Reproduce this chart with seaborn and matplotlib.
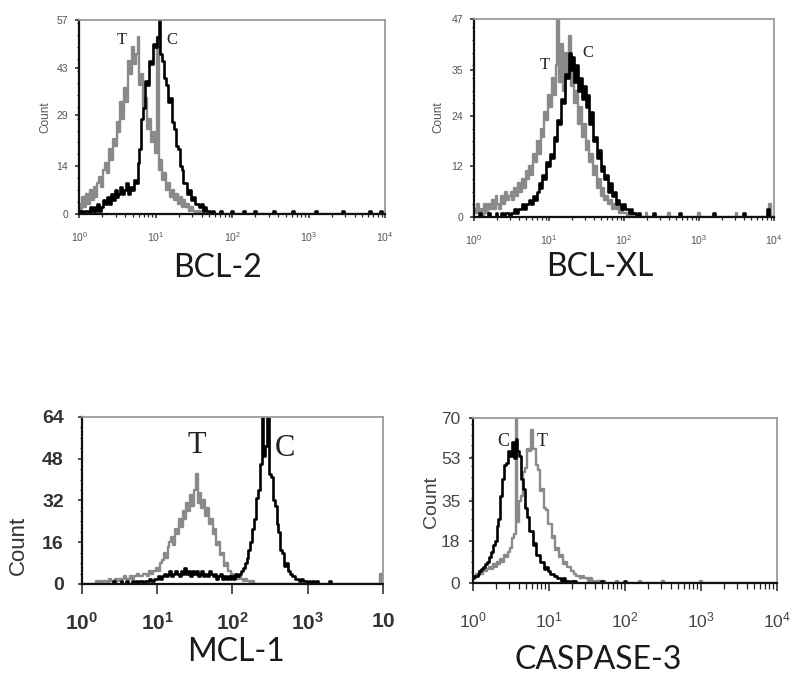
import numpy as np
import pandas as pd
import matplotlib
matplotlib.use("Agg")
import matplotlib.pyplot as plt
import seaborn as sns
from matplotlib.ticker import FixedLocator, LogLocator, NullFormatter, FixedFormatter, AutoMinorLocator

sns.set_theme(style="ticks")
plt.rcParams["font.family"] = ["Liberation Sans", "DejaVu Sans"]
plt.rcParams["mathtext.fontset"] = "custom"
plt.rcParams["mathtext.rm"] = "Liberation Sans"
plt.rcParams["mathtext.bf"] = "Liberation Sans:bold"
plt.rcParams["mathtext.it"] = "Liberation Sans:italic"

# ---------------- data (counts per channel, 0.025 decade channels from 10^0) ----------------
STEP = 0.025
N_CH = 161

panel_names = ["BCL-2", "BCL-XL", "MCL-1", "CASPASE-3"]
y_ticks = [[0, 14, 29, 43, 57], [0, 12, 24, 35, 47], [0, 16, 32, 48, 64], [0, 18, 35, 53, 70]]
x_tick_labels = [["$10^{0}$", "$10^{1}$", "$10^{2}$", "$10^{3}$", "$10^{4}$"],
                 ["$10^{0}$", "$10^{1}$", "$10^{2}$", "$10^{3}$", "$10^{4}$"],
                 [r"$\mathbf{10^{0}}$", r"$\mathbf{10^{1}}$", r"$\mathbf{10^{2}}$", r"$\mathbf{10^{3}}$", r"$\mathbf{10}$"],
                 ["$10^{0}$", "$10^{1}$", "$10^{2}$", "$10^{3}$", "$10^{4}$"]]

bcl2_T = [3, 1, 5, 2, 6, 3, 7, 4, 8, 5,
          9, 11, 8, 13, 15, 12, 19, 16, 22, 20,
          27, 24, 33, 28, 37, 33, 45, 41, 49, 44,
          47, 52, 38, 41, 31, 34, 25, 28, 21, 24,
          18, 52, 13, 16, 10, 12, 7, 9, 5, 7,
          4, 6, 3, 5, 2, 4, 2, 3, 1, 2,
          1, 0, 1, 0, 1]
bcl2_C = [0, 1, 0, 1, 1, 0, 2, 1, 2, 1,
          3, 1, 2, 4, 3, 5, 3, 6, 4, 7,
          5, 6, 8, 6, 7, 9, 6, 8, 7, 10,
          9, 15, 19, 28, 31, 39, 38, 45, 44, 50,
          49, 52, 57, 47, 45, 40, 38, 33, 34, 27,
          25, 20, 19, 14, 13, 9, 9, 6, 7, 4,
          5, 3, 3, 2, 3, 1, 2, 1, 1, 0,
          1]
bcl2_C_tail_ch = [74, 80, 86, 92, 102, 112, 124, 138, 152, 158]
bcl2_C_tail = [1, 1, 1, 1, 1, 1, 1, 1, 1, 1]

bclxl_T = [2, 1, 3, 1, 2, 0, 3, 1, 3, 2,
           4, 2, 5, 3, 2, 5, 3, 6, 4, 5,
           6, 4, 7, 5, 8, 6, 9, 7, 11, 9,
           12, 10, 15, 13, 18, 15, 21, 19, 25, 23,
           29, 26, 33, 29, 36, 47, 32, 41, 30, 39,
           33, 43, 31, 37, 27, 30, 22, 26, 19, 22,
           16, 18, 13, 15, 10, 12, 7, 9, 5, 7,
           4, 5, 3, 4, 2, 3, 2, 3, 1, 2,
           1, 1, 0, 1, 0, 1]
bclxl_T_tail_ch = [92, 104, 120, 140, 158]
bclxl_T_tail = [1, 1, 1, 1, 3]
bclxl_C = [0, 0, 0, 1, 0, 0, 0, 0, 1, 0,
           0, 0, 1, 0, 0, 1, 0, 1, 1, 0,
           1, 1, 2, 1, 2, 2, 3, 2, 3, 3,
           4, 3, 5, 4, 6, 8, 7, 10, 9, 13,
           12, 15, 14, 19, 18, 23, 22, 28, 27, 34,
           33, 39, 35, 38, 32, 36, 30, 33, 28, 31,
           26, 29, 22, 25, 18, 19, 14, 16, 11, 12,
           9, 10, 6, 8, 5, 6, 3, 4, 3, 2,
           3, 2, 2, 1, 2, 1, 1, 0, 1, 0]
bclxl_C_tail_ch = [96, 110, 128, 144, 157]
bclxl_C_tail = [1, 1, 1, 1, 2]

mcl1_T = [0, 0, 0, 0, 0, 0, 0, 0, 1, 0,
          1, 0, 1, 1, 0, 2, 1, 1, 2, 1,
          2, 1, 2, 3, 2, 2, 3, 2, 3, 3,
          4, 3, 3, 4, 4, 3, 5, 4, 5, 5,
          6, 5, 8, 9, 12, 10, 14, 16, 18, 15,
          21, 19, 25, 22, 28, 25, 31, 28, 34, 30,
          36, 42, 31, 35, 29, 32, 26, 29, 23, 25,
          19, 21, 15, 16, 11, 12, 7, 8, 5, 5,
          4, 3, 3, 2, 3, 2, 1, 2, 1, 1,
          0, 1]
mcl1_T_tail_ch = [159]
mcl1_T_tail = [4]
mcl1_C = [0, 0, 0, 0, 0, 0, 0, 0, 0, 0,
          0, 0, 0, 0, 0, 0, 0, 1, 0, 0,
          0, 1, 0, 0, 1, 0, 0, 1, 0, 1,
          0, 1, 1, 0, 1, 1, 2, 1, 1, 2,
          2, 3, 2, 3, 4, 3, 4, 5, 3, 4,
          5, 4, 3, 5, 4, 6, 4, 5, 3, 5,
          4, 5, 3, 4, 5, 3, 4, 3, 5, 4,
          3, 4, 2, 3, 4, 2, 3, 2, 3, 2,
          3, 2, 4, 3, 4, 5, 6, 8, 10, 13,
          16, 21, 25, 33, 36, 46, 64, 49, 53, 64,
          42, 41, 32, 30, 23, 20, 13, 12, 7, 8,
          5, 4, 3, 3, 2, 2, 1, 2, 1, 1,
          0, 1, 0, 1, 0, 1]
mcl1_C_tail_ch = [132]
mcl1_C_tail = [1]

casp3_T = [3, 2, 4, 3, 5, 4, 6, 5, 6, 7,
           6, 8, 7, 9, 8, 10, 9, 12, 11, 13,
           15, 19, 21, 70, 26, 35, 37, 47, 49, 57,
           56, 65, 57, 57, 50, 48, 39, 40, 32, 31,
           25, 25, 19, 20, 14, 15, 11, 12, 8, 9,
           7, 7, 5, 5, 4, 3, 3, 2, 3, 2,
           2, 1, 2, 1, 1, 0, 1, 1, 0, 1]
casp3_T_tail_ch = [76, 88, 100, 120]
casp3_T_tail = [1, 1, 1, 1]
casp3_C = [2, 3, 3, 4, 5, 6, 7, 8, 9, 11,
           13, 16, 18, 24, 27, 37, 44, 50, 51, 56,
           54, 60, 53, 61, 56, 54, 44, 40, 32, 28,
           22, 22, 16, 17, 12, 12, 9, 9, 6, 7,
           5, 4, 4, 3, 3, 2, 2, 1, 2, 1,
           1, 0, 1, 0, 1, 0]
casp3_C_tail_ch = [68, 80]
casp3_C_tail = [1, 1]

curves = [
    (bcl2_T, [], [], bcl2_C, bcl2_C_tail_ch, bcl2_C_tail),
    (bclxl_T, bclxl_T_tail_ch, bclxl_T_tail, bclxl_C, bclxl_C_tail_ch, bclxl_C_tail),
    (mcl1_T, mcl1_T_tail_ch, mcl1_T_tail, mcl1_C, mcl1_C_tail_ch, mcl1_C_tail),
    (casp3_T, casp3_T_tail_ch, casp3_T_tail, casp3_C, casp3_C_tail_ch, casp3_C_tail),
]

# T / C label positions (fluorescence, count)
label_T = [(3.6, 51), (8.9, 36), (34, 53), (8.1, 60)]
label_C = [(16.5, 51), (33, 39), (500, 52), (2.5, 60)]


def full_series(vals, tail_ch, tail_vals):
    out = np.zeros(N_CH)
    out[:len(vals)] = vals
    for c, v in zip(tail_ch, tail_vals):
        out[c] = v
    return out


fl = 10 ** (np.arange(N_CH) * STEP)

# ---------------- layout ----------------
fig = plt.figure(figsize=(8, 6.88), dpi=100)
fig.patch.set_facecolor("white")
rects = [[0.099, 0.689, 0.3825, 0.282],
         [0.5925, 0.6846, 0.375, 0.2878],
         [0.1025, 0.1512, 0.376, 0.2427],
         [0.591, 0.1526, 0.38, 0.2398]]
name_pos = [(0.453, -0.278), (0.418, -0.253), (0.512, -0.407), (0.414, -0.467)]
count_pos = [(-0.111, 0.5), (-0.12, 0.505), (-0.213, 0.23), (-0.135, 0.49)]
xtick_size = [7.5, 7.5, 15, 12.5]
ytick_size = [7.5, 7.5, 14, 12.5]
xtick_pad = [9, 9, 13, 14]
ytick_pad = [5, 5, 10, 6]
xmaj_len = [3, 3, 7, 6]
xmin_len = [2, 2, 4, 4]
count_size = [8.5, 8.5, 16, 14]
tc_size = [12, 12, 22, 13]
tick_color = ["#555555", "#555555", "#333333", "#444444"]

for i in range(4):
    ax = fig.add_axes(rects[i])
    tT, tTc, tTv, tC, tCc, tCv = curves[i]
    df = pd.DataFrame({
        "fl": np.concatenate([fl, fl]),
        "count": np.concatenate([full_series(tT, tTc, tTv), full_series(tC, tCc, tCv)]),
        "sample": ["T"] * N_CH + ["C"] * N_CH,
    })
    sns.lineplot(data=df, x="fl", y="count", hue="sample",
                 palette={"T": "#8a8a8a", "C": "#000000"}, hue_order=["T", "C"],
                 estimator=None, sort=True, drawstyle="steps-mid",
                 linewidth=1.5, legend=False, ax=ax)
    for ln, lw in zip(ax.get_lines(), [1.7, 1.9]):
        ln.set_linewidth(lw)
    ax.set_xscale("log")
    ax.set_xlim(1, 1e4)
    ax.set_ylim(0, y_ticks[i][-1])
    ax.xaxis.set_major_locator(FixedLocator([1, 10, 100, 1000, 10000]))
    ax.xaxis.set_major_formatter(FixedFormatter(x_tick_labels[i]))
    ax.xaxis.set_minor_locator(LogLocator(base=10, subs=np.arange(2, 10)))
    ax.xaxis.set_minor_formatter(NullFormatter())
    ax.yaxis.set_major_locator(FixedLocator(y_ticks[i]))
    ax.yaxis.set_minor_locator(AutoMinorLocator(4))
    ax.tick_params(axis="x", which="major", labelsize=xtick_size[i],
                   labelcolor=tick_color[i], length=xmaj_len[i], width=1.1,
                   color="#222222", pad=xtick_pad[i])
    ax.tick_params(axis="y", which="major", labelsize=ytick_size[i],
                   labelcolor=tick_color[i], length=3, width=1.1,
                   color="#222222", pad=ytick_pad[i])
    ax.tick_params(axis="x", which="minor", length=xmin_len[i], width=0.9, color="#222222")
    ax.tick_params(axis="y", which="minor", length=1.5, width=0.8, color="#222222")
    if i == 2:
        for lab in ax.get_yticklabels():
            lab.set_fontweight("bold")
    for s in ["left", "bottom"]:
        ax.spines[s].set_color("#111111")
        ax.spines[s].set_linewidth(1.6)
    for s in ["top", "right"]:
        ax.spines[s].set_color("#9a9a9a")
        ax.spines[s].set_linewidth(1.3)
    ax.set_xlabel(panel_names[i], fontsize=23, family=["Lato", "DejaVu Sans"], color="#1a1a1a")
    ax.xaxis.set_label_coords(*name_pos[i])
    ax.xaxis.label.set_va("center")
    ax.set_ylabel("Count", fontsize=count_size[i], color=tick_color[i])
    ax.yaxis.set_label_coords(*count_pos[i])
    ax.yaxis.label.set_va("center")
    ax.text(*label_T[i], "T", fontsize=tc_size[i], family=["Liberation Serif"],
            color="#222222", ha="center", va="center")
    ax.text(*label_C[i], "C", fontsize=tc_size[i], family=["Liberation Serif"],
            color="#222222", ha="center", va="center")
    ax.grid(False)

fig.savefig("out.png", dpi=100, facecolor="white")
